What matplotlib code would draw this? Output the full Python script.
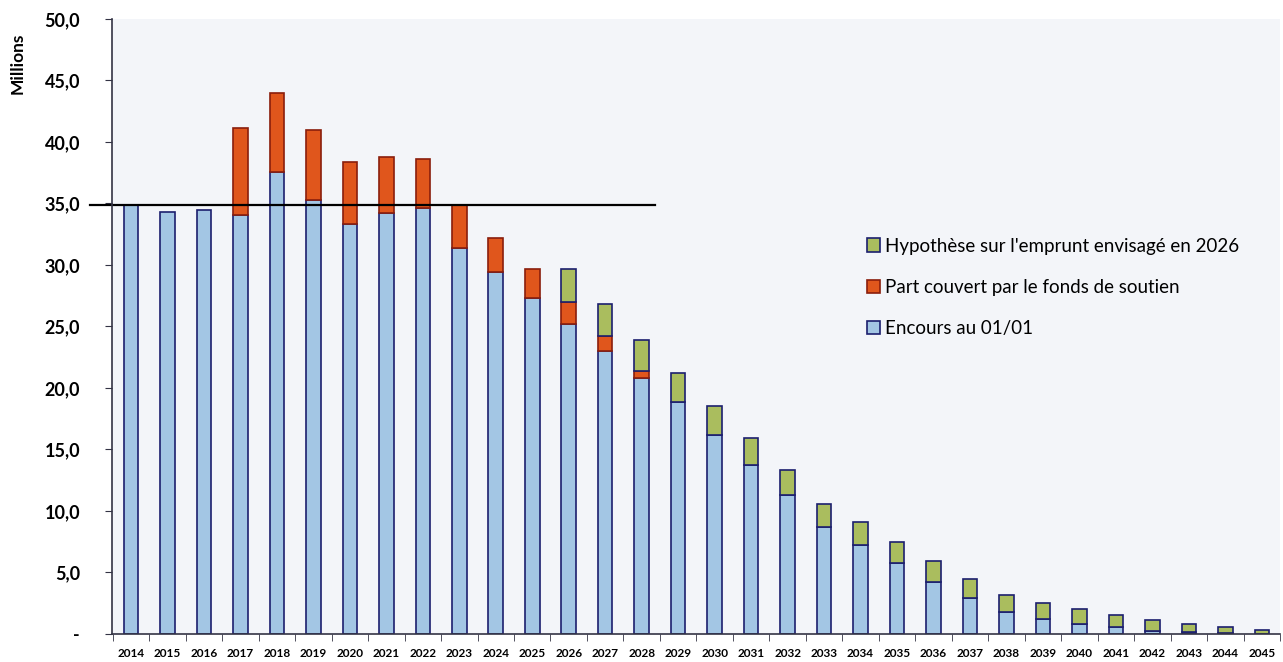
import numpy as np
import matplotlib.pyplot as plt

plt.rcParams['font.family'] = ['Lato', 'DejaVu Sans']

annees = [str(a) for a in range(2014, 2046)]

# encours au 01/01 (millions)
encours = [34.9, 34.3, 34.5, 34.1, 37.6, 35.3, 33.3, 34.2, 34.6, 31.4,
           29.4, 27.3, 25.2, 23.0, 20.8, 18.9, 16.2, 13.7, 11.3, 8.7,
           7.25, 5.8, 4.2, 2.9, 1.75, 1.25, 0.8, 0.6, 0.27, 0.15, 0.05, 0.0]

# part couverte par le fonds de soutien
fonds = [0, 0, 0, 7.0, 6.4, 5.7, 5.1, 4.55, 4.0, 3.5,
         2.8, 2.35, 1.8, 1.2, 0.6, 0, 0, 0, 0, 0,
         0, 0, 0, 0, 0, 0, 0, 0, 0, 0, 0, 0]

# hypothese emprunt 2026
emprunt = [0, 0, 0, 0, 0, 0, 0, 0, 0, 0,
           0, 0, 2.65, 2.6, 2.5, 2.35, 2.3, 2.2, 2.0, 1.9,
           1.85, 1.7, 1.7, 1.55, 1.45, 1.3, 1.2, 0.95, 0.88, 0.65, 0.55, 0.33]

seuil = 34.9

x = np.arange(len(annees))
encours = np.array(encours)
fonds = np.array(fonds)
emprunt = np.array(emprunt)

fig = plt.figure(figsize=(12.83, 6.62), dpi=100)
ax = fig.add_axes([0.0873, 0.0423, 0.9104, 0.929])
ax.set_facecolor('#f3f5f9')

navy = '#1c1f6e'
w = 0.4
b1 = ax.bar(x, encours, w, color='#a3c6e4', edgecolor=navy, linewidth=1.2,
            label='Encours au 01/01')
m = fonds > 0
b2 = ax.bar(x[m], fonds[m], w, bottom=encours[m], color='#e0561c',
            edgecolor='#8a1e0c', linewidth=1.2,
            label='Part couvert par le fonds de soutien')
m = emprunt > 0
b3 = ax.bar(x[m], emprunt[m], w, bottom=(encours + fonds)[m], color='#aabd5e',
            edgecolor=navy, linewidth=1.2,
            label="Hypothèse sur l'emprunt envisagé en 2026")

# plafond
ax.plot([-1.12, 14.36], [seuil, seuil], color='black', lw=1.6, clip_on=False)

ax.set_xlim(-0.52, len(annees) - 0.52)
ax.set_ylim(0, 50)
ax.set_xticks(x)
ax.set_xticklabels(annees, fontsize=8.5, fontweight='bold')
ax.set_xticks(np.arange(len(annees) + 1) - 0.5, minor=True)
ax.tick_params(axis='x', which='major', length=0, pad=10)
ax.tick_params(axis='x', which='minor', length=5, color='#333344')

yt = np.arange(0, 51, 5)
ax.set_yticks(yt)
ax.set_yticklabels(['-'] + [f'{v:.1f}'.replace('.', ',') for v in yt[1:]],
                   fontsize=13, fontweight='bold')
ax.tick_params(axis='y', length=5, color='#333344', pad=18)

for s in ['top', 'right']:
    ax.spines[s].set_visible(False)
for s in ['left', 'bottom']:
    ax.spines[s].set_color('#333344')
    ax.spines[s].set_linewidth(1.2)

fig.text(0.014, 0.95, 'Millions', rotation=90, fontsize=12.5, fontweight='bold',
         ha='center', va='top')

ax.legend(handles=[b3, b2, b1], loc='upper left', bbox_to_anchor=(0.632, 0.672),
          frameon=False, fontsize=13.5, labelspacing=1.3, handlelength=0.7,
          handleheight=0.7, handletextpad=0.25)

fig.savefig('out.png', dpi=100)
